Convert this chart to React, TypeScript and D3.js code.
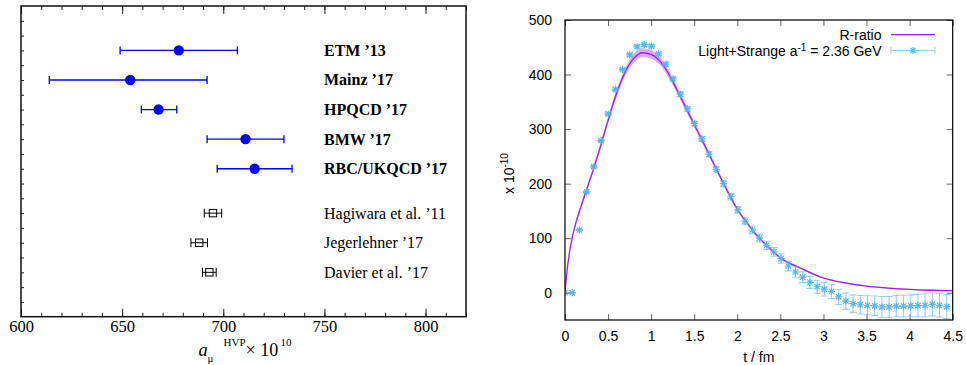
import React, { useEffect, useRef } from 'react';
import * as d3 from 'd3';

// left panel: a_mu^HVP determinations
const latticeLabels = ['ETM ’13', 'Mainz ’17', 'HPQCD ’17', 'BMW ’17', 'RBC/UKQCD ’17'];
const latticeValues = [678, 654, 668, 711, 715.5];
const latticeLow = [649, 614, 659.5, 692, 697];
const latticeHigh = [707, 692, 677, 730, 734];

const phenoLabels = ['Hagiwara et al. ’11', 'Jegerlehner ’17', 'Davier et al. ’17'];
const phenoValues = [694.9, 688.1, 693.1];
const phenoErrors = [4.3, 4.1, 3.4];

const aMuTicks = [600, 650, 700, 750, 800];

// right panel: integrand vs t, lattice (a^-1 = 2.36 GeV) and R-ratio
const aInvGeV = 2.36;
const hbarcGeVfm = 0.1973;
const latticeCorr = [
  0, 0, 115, 185, 231, 279, 328, 373, 409, 436,
  451, 455, 452, 438, 419, 392, 364, 337, 310, 282,
  254, 226, 200, 176, 152, 131, 115, 100, 87, 75,
  62.5, 49, 38, 28.5, 19, 11, 6.5, 2.5, -7.5, -15.5,
  -20, -22, -23, -24, -26, -26, -24.5, -24.5, -24, -23.5,
  -23, -21.5, -23, -25.5,
];
const latticeCorrErr = [
  0.5, 0.5, 1, 1, 1.5, 1.5, 2, 2, 2, 2.5,
  2.5, 3, 3, 3, 3.5, 3.5, 4, 4, 4, 4.5,
  5, 5, 5.5, 6, 6, 6.5, 7, 7, 7.5, 8,
  8.5, 9, 9.5, 10, 11, 12, 12.5, 13, 14, 15,
  16, 17, 17.5, 18, 19, 19, 19.5, 20, 20, 20.5,
  21, 21, 21.5, 22,
];

const rRatioT = [0, 0.02, 0.05, 0.1, 0.2, 0.3, 0.4, 0.5, 0.6, 0.7, 0.8, 0.9, 1.0, 1.1, 1.2, 1.3, 1.4, 1.5, 1.6, 1.7, 1.8, 1.9, 2.0, 2.1, 2.2, 2.3, 2.4, 2.5, 2.75, 3.0, 3.25, 3.5, 3.75, 4.0, 4.25, 4.5];
const rRatioVal = [0, 35, 72, 112, 165, 212, 262, 316, 366, 405, 430, 440, 437, 425, 402, 372, 340, 308, 277, 245, 213, 182, 153, 131, 110, 93, 78, 64, 44, 27, 18, 12, 8.5, 6, 4.5, 4];
const rRatioErr = [0, 1, 2, 3, 4, 5, 6, 6, 7, 7, 8, 8, 8, 7, 7, 6, 6, 5, 5, 4, 4, 4, 3, 3, 3, 2.5, 2.5, 2, 2, 1.5, 1.5, 1, 1, 1, 1, 1];

const tTicks = [0, 0.5, 1, 1.5, 2, 2.5, 3, 3.5, 4, 4.5];
const corrTicks = [0, 100, 200, 300, 400, 500];

const SERIF = '"Liberation Serif", "Times New Roman", serif';
const SANS = '"Liberation Sans", Arial, sans-serif';
const BLUE = '#0000ff';
const SKY = '#56b4e9';
const VIOLET = '#a020f0';

const drawStar = (g: any, x: number, y: number) => {
  const r = 3.6;
  const d = 2.7;
  const s = g.append('g').attr('stroke', SKY).attr('stroke-width', 1.2);
  s.append('line').attr('x1', x - r).attr('x2', x + r).attr('y1', y).attr('y2', y);
  s.append('line').attr('x1', x).attr('x2', x).attr('y1', y - r).attr('y2', y + r);
  s.append('line').attr('x1', x - d).attr('x2', x + d).attr('y1', y - d).attr('y2', y + d);
  s.append('line').attr('x1', x - d).attr('x2', x + d).attr('y1', y + d).attr('y2', y - d);
};

const App = () => {
  const ref = useRef<SVGSVGElement>(null);

  useEffect(() => {
    if (!ref.current) return;
    const svg = d3.select(ref.current);
    svg.selectAll('*').remove();

    // ---------- left panel ----------
    const L = { left: 21, right: 466, top: 6, bottom: 316.7 };
    const xL = d3.scaleLinear().domain([600, 820]).range([L.left, L.right]);
    const yL = d3.scaleLinear().domain([0, 10.5]).range([L.top, L.bottom]);
    const left = svg.append('g');

    const minor = d3.range(600, 821, 10);
    left.append('g')
      .attr('transform', `translate(0,${L.bottom})`)
      .call(d3.axisBottom(xL).tickValues(minor).tickSize(-4).tickFormat(() => ''))
      .call(g => g.select('.domain').remove());
    left.append('g')
      .attr('transform', `translate(0,${L.top})`)
      .call(d3.axisTop(xL).tickValues(minor).tickSize(-4).tickFormat(() => ''))
      .call(g => g.select('.domain').remove());
    left.append('g')
      .attr('transform', `translate(0,${L.bottom})`)
      .call(d3.axisBottom(xL).tickValues(aMuTicks).tickSize(-8).tickPadding(3.5).tickFormat(d3.format('d')))
      .call(g => g.select('.domain').remove())
      .call(g => g.selectAll('text').attr('font-family', SERIF).attr('font-size', 16.5).attr('fill', '#000'));
    left.append('g')
      .attr('transform', `translate(0,${L.top})`)
      .call(d3.axisTop(xL).tickValues(aMuTicks).tickSize(-8).tickFormat(() => ''))
      .call(g => g.select('.domain').remove());
    left.append('g')
      .attr('transform', `translate(${L.left},0)`)
      .call(d3.axisLeft(yL).tickValues(d3.range(0.5, 10.5, 0.5)).tickSize(-3).tickFormat(() => ''))
      .call(g => g.select('.domain').remove());
    left.selectAll('.tick line').attr('stroke', '#222');

    left.append('rect')
      .attr('x', L.left).attr('y', L.top)
      .attr('width', L.right - L.left).attr('height', L.bottom - L.top)
      .attr('fill', 'none').attr('stroke', '#111').attr('stroke-width', 1.5);

    // lattice results
    latticeLabels.forEach((label, i) => {
      const y = yL(1.5 + i);
      const g = left.append('g');
      g.append('line').attr('x1', xL(latticeLow[i])).attr('x2', xL(latticeHigh[i]))
        .attr('y1', y).attr('y2', y).attr('stroke', BLUE).attr('stroke-width', 1.3);
      [latticeLow[i], latticeHigh[i]].forEach(v => {
        g.append('line').attr('x1', xL(v)).attr('x2', xL(v)).attr('y1', y - 4).attr('y2', y + 4)
          .attr('stroke', BLUE).attr('stroke-width', 1.3);
      });
      g.append('circle').attr('cx', xL(latticeValues[i])).attr('cy', y).attr('r', 5.2).attr('fill', BLUE);
      g.append('text').attr('x', 324).attr('y', y + 5.5)
        .attr('font-family', SERIF).attr('font-size', 16).attr('font-weight', 'bold').text(label);
    });

    // phenomenology results
    phenoLabels.forEach((label, i) => {
      const y = yL(7 + i);
      const g = left.append('g').attr('stroke', '#000').attr('stroke-width', 1).attr('fill', 'none');
      const lo = phenoValues[i] - phenoErrors[i];
      const hi = phenoValues[i] + phenoErrors[i];
      g.append('line').attr('x1', xL(lo)).attr('x2', xL(hi)).attr('y1', y).attr('y2', y);
      [lo, hi].forEach(v => {
        g.append('line').attr('x1', xL(v)).attr('x2', xL(v)).attr('y1', y - 4.5).attr('y2', y + 4.5);
      });
      g.append('rect').attr('x', xL(phenoValues[i]) - 3.7).attr('y', y - 3.7).attr('width', 7.4).attr('height', 7.4);
      left.append('text').attr('x', 324).attr('y', y + 5.5)
        .attr('font-family', SERIF).attr('font-size', 16).text(label);
    });

    const xlab = left.append('g').attr('font-family', SERIF).attr('fill', '#000');
    xlab.append('text').attr('x', 198.5).attr('y', 356).attr('font-size', 18.5).attr('font-style', 'italic').text('a');
    xlab.append('text').attr('x', 207.5).attr('y', 361.5).attr('font-size', 11).text('μ');
    xlab.append('text').attr('x', 223.5).attr('y', 346).attr('font-size', 11).text('HVP');
    xlab.append('text').attr('x', 245.5).attr('y', 356).attr('font-size', 18).text('× 10');
    xlab.append('text').attr('x', 280.5).attr('y', 346).attr('font-size', 11).text('10');

    // ---------- right panel ----------
    const R = { left: 565, right: 952.7, top: 20, bottom: 320 };
    const xR = d3.scaleLinear().domain([0, 4.5]).range([R.left, R.right]);
    const yR = d3.scaleLinear().domain([-50, 500]).range([R.bottom, R.top]);
    const right = svg.append('g');

    right.append('defs').append('clipPath').attr('id', 'plotclip')
      .append('rect').attr('x', R.left).attr('y', R.top)
      .attr('width', R.right - R.left).attr('height', R.bottom - R.top);

    right.append('g')
      .attr('transform', `translate(0,${R.bottom})`)
      .call(d3.axisBottom(xR).tickValues(tTicks).tickSize(-6).tickPadding(11).tickFormat(d3.format('')))
      .call(g => g.select('.domain').remove())
      .call(g => g.selectAll('text').attr('font-family', SANS).attr('font-size', 14).attr('fill', '#000'));
    right.append('g')
      .attr('transform', `translate(0,${R.top})`)
      .call(d3.axisTop(xR).tickValues(tTicks).tickSize(-6).tickFormat(() => ''))
      .call(g => g.select('.domain').remove());
    right.append('g')
      .attr('transform', `translate(${R.left},0)`)
      .call(d3.axisLeft(yR).tickValues(corrTicks).tickSize(-6).tickPadding(13).tickFormat(d3.format('d')))
      .call(g => g.select('.domain').remove())
      .call(g => g.selectAll('text').attr('font-family', SANS).attr('font-size', 14).attr('fill', '#000'));
    right.append('g')
      .attr('transform', `translate(${R.right},0)`)
      .call(d3.axisRight(yR).tickValues(corrTicks).tickSize(-6).tickFormat(() => ''))
      .call(g => g.select('.domain').remove());
    right.selectAll('.tick line').attr('stroke', '#666');

    const plot = right.append('g').attr('clip-path', 'url(#plotclip)');

    const rPts = rRatioT.map((t, i) => ({ t, v: rRatioVal[i], e: rRatioErr[i] }));
    plot.append('path')
      .datum(rPts)
      .attr('fill', VIOLET).attr('fill-opacity', 0.38)
      .attr('d', d3.area<any>().x(d => xR(d.t)).y0(d => yR(d.v - d.e)).y1(d => yR(d.v + d.e)).curve(d3.curveMonotoneX));
    plot.append('path')
      .datum(rPts)
      .attr('fill', 'none').attr('stroke', VIOLET).attr('stroke-width', 1.3)
      .attr('d', d3.line<any>().x(d => xR(d.t)).y(d => yR(d.v)).curve(d3.curveMonotoneX));

    const aFm = hbarcGeVfm / aInvGeV;
    const latPts = latticeCorr.map((v, n) => ({ t: n * aFm, v, e: latticeCorrErr[n] }));
    const eb = plot.append('g').attr('stroke', SKY).attr('stroke-opacity', 0.6).attr('stroke-width', 1.1);
    latPts.forEach(d => {
      const x = xR(d.t);
      eb.append('line').attr('x1', x).attr('x2', x).attr('y1', yR(d.v - d.e)).attr('y2', yR(d.v + d.e));
      [d.v - d.e, d.v + d.e].forEach(v => {
        eb.append('line').attr('x1', x - 3.5).attr('x2', x + 3.5).attr('y1', yR(v)).attr('y2', yR(v));
      });
    });
    latPts.forEach(d => drawStar(plot, xR(d.t), yR(d.v)));

    right.append('rect')
      .attr('x', R.left).attr('y', R.top)
      .attr('width', R.right - R.left).attr('height', R.bottom - R.top)
      .attr('fill', 'none').attr('stroke', '#000').attr('stroke-width', 1.2);

    // legend
    right.append('text').attr('x', 881.5).attr('y', 39.5).attr('text-anchor', 'end')
      .attr('font-family', SANS).attr('font-size', 14).text('R-ratio');
    right.append('line').attr('x1', 891).attr('x2', 935).attr('y1', 34.7).attr('y2', 34.7)
      .attr('stroke', VIOLET).attr('stroke-width', 1.3);

    const leg2 = right.append('text').attr('x', 881.5).attr('y', 55.5).attr('text-anchor', 'end')
      .attr('font-family', SANS).attr('font-size', 14);
    leg2.append('tspan').text('Light+Strange a');
    leg2.append('tspan').attr('font-size', 10).attr('dy', -5).text('-1');
    leg2.append('tspan').attr('dy', 5).text(' = 2.36 GeV');
    const lg = right.append('g').attr('stroke', SKY).attr('stroke-opacity', 0.6).attr('stroke-width', 1.1);
    lg.append('line').attr('x1', 891).attr('x2', 935).attr('y1', 50.5).attr('y2', 50.5);
    [891, 935].forEach(x => lg.append('line').attr('x1', x).attr('x2', x).attr('y1', 47).attr('y2', 54));
    drawStar(right, 913, 50.5);

    right.append('text').attr('x', xR(2.25)).attr('y', 362).attr('text-anchor', 'middle')
      .attr('font-family', SANS).attr('font-size', 14).text('t / fm');

    const ylab = right.append('text')
      .attr('transform', 'translate(513.5,194) rotate(-90)')
      .attr('font-family', SANS).attr('font-size', 14);
    ylab.append('tspan').text('x 10');
    ylab.append('tspan').attr('font-size', 10).attr('dy', -5.5).text('-10');
  }, []);

  return (
    <svg
      ref={ref}
      width={966}
      height={365}
      style={{ position: 'absolute', left: 0, top: 0, background: '#fff' }}
    />
  );
};

export default App;
